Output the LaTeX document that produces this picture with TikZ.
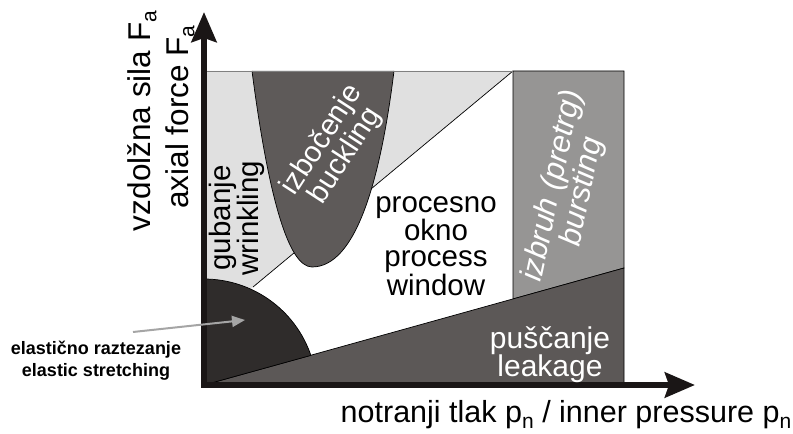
\documentclass[tikz,border=0pt]{standalone}
\usepackage{fontspec}
\setmainfont{Liberation Sans}
\usetikzlibrary{arrows.meta}
\definecolor{lgray}{RGB}{224,224,224}
\definecolor{buckcol}{RGB}{94,90,89}
\definecolor{leakcol}{RGB}{92,88,87}
\definecolor{elastcol}{RGB}{47,44,43}
\definecolor{burstcol}{RGB}{150,149,148}
\definecolor{axiscol}{RGB}{26,22,22}
\definecolor{arrgray}{RGB}{165,165,165}
\newcommand\lowsub[2]{\raisebox{-#1em}{\fontsize{21}{21}\selectfont #2}}
\begin{document}
\begin{tikzpicture}[x=1pt,y=1pt,
  region/.style={draw=black, line width=0.7pt},
  big/.style={font=\fontsize{29.5}{25.7}\selectfont, align=center, inner sep=0pt},
  axlabel/.style={font=\fontsize{31.5}{32}\selectfont, anchor=base, inner sep=0pt},
  axisline/.style={line width=6pt, draw=axiscol, -{Stealth[length=30pt,width=25pt,inset=4pt]}},
]
\useasboundingbox (0,0) rectangle (793,434);
\coordinate (O) at (204,49);
\coordinate (TL) at (204,363);
\coordinate (TR) at (624,363);
\coordinate (BR) at (624,49);
\coordinate (D1) at (513,363);
\coordinate (D2) at (253,147);
% light gray (wrinkling) region
\fill[lgray] (TL) -- (D1) -- (204,106) -- cycle;
\draw[line width=0.7pt] (D1) -- (D2);
% buckling
\filldraw[fill=buckcol, region] (252,363) .. controls (268,240) and (288,167) .. (312,167) .. controls (355,167) and (380,250) .. (394,363);
% bursting
\filldraw[fill=burstcol, region] (D1) -- (TR) -- (624,166) -- (513,135) -- cycle;
% leakage
\filldraw[fill=leakcol, region] (O) -- (624,166) -- (BR) -- cycle;
% elastic stretching
\filldraw[fill=elastcol, region] (O) -- (204,155) arc[start angle=90, end angle=18.9, radius=113] -- cycle;
% top border
\draw[gray, line width=0.7pt] (TL) -- (D1);
% axes
\coordinate (Yend) at (204,422);
\coordinate (Xend) at (695,49);
\draw[axisline] (204,46) -- (Yend);
\draw[axisline] (201,49) -- (Xend);
% labels
\node[big] (window) at (436,188) {procesno\\okno\\process\\window};
\node[big, text=white, font=\fontsize{30}{28}\selectfont] (leak) at (550,79) {puščanje\\leakage};
\node[big, rotate=90] (wrink) at (237,216) {gubanje\\wrinkling};
\node[big, text=white, rotate=57] (buck) at (334,286) {izbočenje\\buckling};
\node[big, text=white, rotate=78, font=\fontsize{31}{27}\selectfont\itshape] (burst) at (568,245) {izbruh (pretrg)\\bursting};
\node[axlabel, rotate=90] (ylab1) at (150,313) {vzdolžna sila F\lowsub{0.2}{a}};
\node[axlabel, rotate=90] (ylab2) at (188,317) {axial force F\lowsub{0.2}{a}};
\node[axlabel, font=\fontsize{30.5}{32}\selectfont] (xlab) at (566,11) {notranji tlak p\lowsub{0.18}{n} / inner pressure p\lowsub{0.18}{n}};
\node[font=\bfseries\fontsize{18}{22}\selectfont, align=center, inner sep=0pt] (elab) at (96,73) {elastično raztezanje\\elastic stretching};
\coordinate (arrS) at (133,102);
\coordinate (arrE) at (245,114);
\draw[draw=arrgray, line width=2pt, -{Triangle[length=13pt,width=11pt]}] (arrS) -- (arrE);
\end{tikzpicture}
\end{document}
